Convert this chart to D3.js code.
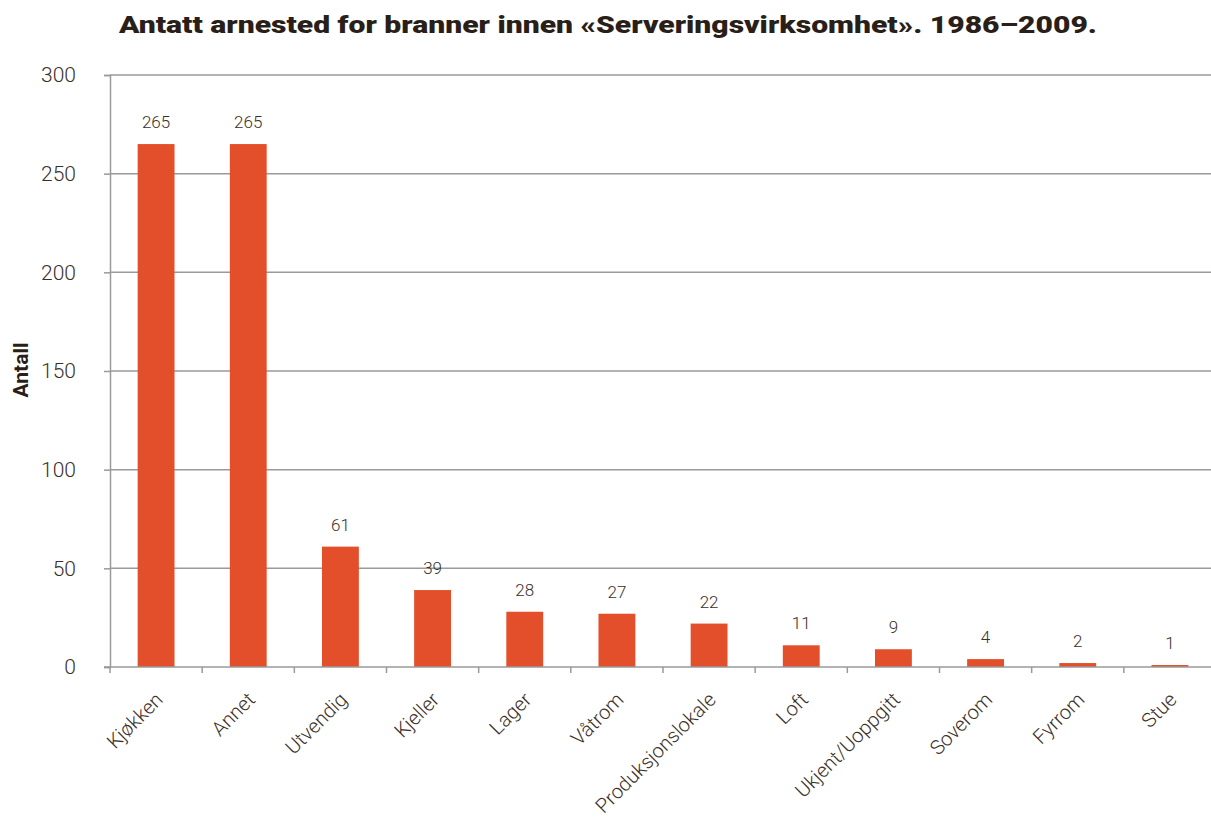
<!DOCTYPE html>
<html><head><meta charset="utf-8">
<script src="https://cdn.jsdelivr.net/npm/d3@7/dist/d3.min.js"></script>
<style>
html,body{margin:0;padding:0;background:#fff;}
svg text{font-family:"Roboto","DejaVu Sans",sans-serif;}
</style></head>
<body>
<svg id="chart" width="1211" height="823"></svg>
<script>
const categories = ["Kjøkken","Annet","Utvendig","Kjeller","Lager","Våtrom","Produksjonslokale","Loft","Ukjent/Uoppgitt","Soverom","Fyrrom","Stue"];
const values = [265,265,61,39,28,27,22,11,9,4,2,1];
const yTicks = [0,50,100,150,200,250,300];
const title = "Antatt arnested for branner innen «Serveringsvirksomhet». 1986–2009.";
const yTitle = "Antall";

const svg = d3.select("#chart");
const textColor = "#3b2f29";
const gridColor = "#9a9a9a";
const barColor = "#e34f2a";

const x = d3.scaleBand().domain(categories).range([110, 1216]).paddingInner(0.6).paddingOuter(0.3);
const y = d3.scaleLinear().domain([0, 300]).range([667, 75]);

// gridlines
svg.append("g").selectAll("line").data(yTicks.filter(d => d > 0)).join("line")
  .attr("x1", 110).attr("x2", 1211)
  .attr("y1", d => y(d)).attr("y2", d => y(d))
  .attr("stroke", gridColor).attr("stroke-width", 1.5);

// bars
svg.append("g").selectAll("rect").data(values).join("rect")
  .attr("x", (d, i) => x(categories[i]))
  .attr("width", x.bandwidth())
  .attr("y", d => y(d))
  .attr("height", d => y(0) - y(d))
  .attr("fill", barColor);

// value labels
svg.append("g").selectAll("text").data(values).join("text")
  .attr("x", (d, i) => x(categories[i]) + x.bandwidth() / 2)
  .attr("y", d => y(d) - 16)
  .attr("text-anchor", "middle")
  .attr("font-size", 17)
  .attr("font-weight", 300)
  .attr("fill", textColor)
  .text(d => d);

// y axis
const yAxis = svg.append("g").attr("transform", "translate(110,0)")
  .call(d3.axisLeft(y).tickValues(yTicks).tickSize(6).tickPadding(28));
yAxis.select(".domain").attr("stroke", gridColor).attr("stroke-width", 1.5);
yAxis.selectAll(".tick line").attr("stroke", gridColor).attr("stroke-width", 1.5);
yAxis.selectAll(".tick text").attr("font-size", 21).attr("fill", textColor)
  .attr("font-family", "Roboto").attr("font-weight", 300);

// x axis: baseline + boundary ticks
const step = x.step();
const boundaries = d3.range(categories.length + 1).map(i => i === 0 ? 110 : x(categories[i - 1]) + x.bandwidth() + (step - x.bandwidth()) / 2);
svg.append("line").attr("x1", 104).attr("x2", 1211).attr("y1", y(0)).attr("y2", y(0))
  .attr("stroke", gridColor).attr("stroke-width", 1.5);
svg.append("g").selectAll("line").data(boundaries).join("line")
  .attr("x1", d => d).attr("x2", d => d).attr("y1", y(0)).attr("y2", y(0) + 6)
  .attr("stroke", gridColor).attr("stroke-width", 1.5);

// x labels
svg.append("g").selectAll("text").data(categories).join("text")
  .attr("transform", d => `translate(${x(d) + x.bandwidth() / 2 + 3},${y(0) + 29}) rotate(-45)`)
  .attr("text-anchor", "end")
  .attr("dy", "0.35em")
  .attr("font-size", 20)
  .attr("font-weight", 300)
  .attr("fill", textColor)
  .text(d => d);

// title
svg.append("text").attr("x", 608).attr("y", 33)
  .attr("text-anchor", "middle")
  .attr("font-size", 23).attr("font-weight", 900)
  .attr("fill", "#2a1f18")
  .attr("textLength", 978).attr("lengthAdjust", "spacingAndGlyphs")
  .text(title);

// y title
svg.append("text").attr("transform", "translate(28,370) rotate(-90)")
  .attr("text-anchor", "middle")
  .attr("font-size", 21).attr("font-weight", 700)
  .attr("fill", "#2a1f18")
  .text(yTitle);
</script>
</body></html>
